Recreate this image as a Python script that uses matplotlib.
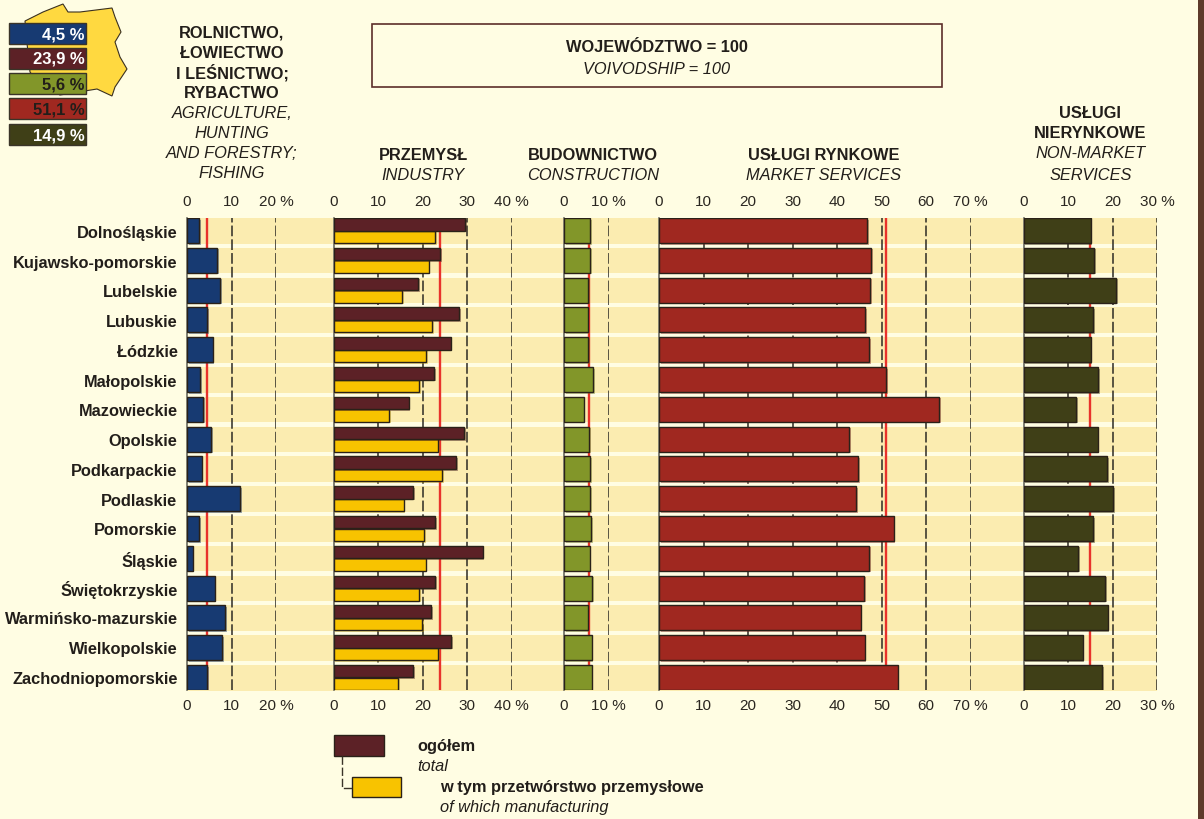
import matplotlib
matplotlib.use("Agg")
import matplotlib.pyplot as plt
from matplotlib.patches import Rectangle, Polygon
import matplotlib.patheffects as pe

W, H = 1204, 819
FONT = "Liberation Sans"
plt.rcParams["font.family"] = [FONT, "DejaVu Sans"]

regions = ["Dolnośląskie", "Kujawsko-pomorskie", "Lubelskie", "Lubuskie", "Łódzkie", "Małopolskie",
           "Mazowieckie", "Opolskie", "Podkarpackie", "Podlaskie", "Pomorskie", "Śląskie",
           "Świętokrzyskie", "Warmińsko-mazurskie", "Wielkopolskie", "Zachodniopomorskie"]
agriculture = [2.7, 6.8, 7.5, 4.6, 5.8, 3.0, 3.6, 5.5, 3.3, 11.9, 2.8, 1.3, 6.2, 8.6, 7.9, 4.6]
industry = [29.6, 23.9, 19.0, 28.3, 26.3, 22.6, 16.9, 29.3, 27.5, 17.9, 22.9, 33.5, 22.9, 22.0, 26.5, 17.9]
manufacturing = [22.9, 21.4, 15.4, 22.2, 20.8, 19.2, 12.5, 23.5, 24.4, 15.8, 20.3, 20.7, 19.2, 19.9, 23.5, 14.5]
construction = [5.9, 5.9, 5.5, 5.3, 5.4, 6.6, 4.4, 5.7, 5.9, 5.9, 6.1, 5.8, 6.4, 5.3, 6.2, 6.2]
market = [46.8, 47.7, 47.5, 46.4, 47.2, 51.0, 63.0, 42.8, 44.7, 44.3, 52.7, 47.2, 46.1, 45.3, 46.2, 53.6]
nonmarket = [15.1, 15.9, 20.8, 15.7, 15.1, 16.8, 11.9, 16.7, 18.8, 20.1, 15.6, 12.3, 18.3, 18.9, 13.3, 17.7]
means = [4.5, 23.9, 5.6, 51.1, 14.9]
mean_labels = ["4,5 %", "23,9 %", "5,6 %", "51,1 %", "14,9 %"]

BG, BAND, EDGE = "#FFFDE3", "#FBECB0", "#2A2118"
C_AGR, C_TOT, C_MAN, C_CON, C_MKT, C_NON = "#173A72", "#5C2126", "#F8C300", "#829629", "#A02820", "#3F3F17"
RED = "#E8322B"
SCALE = 4.45
Y0, Y1 = 218.0, 690.0
PITCH = 29.8
C0 = 230.5

fig = plt.figure(figsize=(W / 100, H / 100), dpi=100, facecolor=BG)

def px_axes(x0, x1, y0, y1):
    return fig.add_axes([x0 / W, 1 - y1 / H, (x1 - x0) / W, (y1 - y0) / H])

# page overlay, in pixels
bg = px_axes(0, W, 0, H)
bg.set_xlim(0, W); bg.set_ylim(H, 0); bg.axis("off"); bg.set_zorder(0)
for i in range(len(regions)):
    top_px = C0 + PITCH * i - 12.5
    bg.add_patch(Rectangle((187, top_px), 970, 25.5, fc=BAND, ec="none"))
bg.add_patch(Rectangle((1198, 0), 6, H, fc="#5E3A2A", ec="none"))

# Poland outline (decorative)
poland = [(25, 21), (43, 12), (63, 4), (68, 12), (80, 12), (112, 8), (115, 17), (121, 32), (115, 42),
          (120, 57), (127, 69), (115, 87), (112, 96), (97, 89), (60, 95), (40, 85), (30, 72), (27, 43)]
bg.add_patch(Polygon(poland, closed=True, fc="#FFD940", ec="#3A3020", lw=0.8))

shadow = [pe.SimplePatchShadow(offset=(1.2, -1.2), alpha=0.4, rho=0.8), pe.Normal()]

def panel(x0, xmax, ticks, series, colors, mean):
    ax = px_axes(x0, x0 + SCALE * xmax, Y0, Y1)
    ax.set_zorder(2)
    ax.patch.set_alpha(0)
    ax.set_xlim(0, xmax)
    ax.set_ylim((Y1 - C0) / PITCH, (Y0 - C0) / PITCH)
    for s in ax.spines.values():
        s.set_visible(False)
    ax.spines["left"].set_visible(True)
    ax.spines["left"].set_color("#6A6A60")
    ax.spines["left"].set_linewidth(1.2)
    ax.set_yticks([])
    ax.set_xticks(ticks)
    ax.set_xticklabels([str(t) if t != ticks[-1] else f"{t} %" for t in ticks])
    ax.tick_params(axis="x", top=False, bottom=False, labeltop=True, labelbottom=True,
                   length=0, pad=6.5, labelsize=11, labelcolor="#2A2620")
    for t in ticks[1:]:
        ax.axvline(t, color="#2C2A24", lw=1.1, dashes=(7, 2.0), zorder=1)
    ax.axvline(mean, color=RED, lw=1.7, zorder=1.5)
    ys = list(range(len(regions)))
    if len(series) == 1:
        b = ax.barh(ys, series[0], height=0.84, color=colors[0], edgecolor=EDGE, lw=1.0, zorder=3)
        for r in b:
            r.set_path_effects(shadow)
    else:
        b2 = ax.barh([y + 0.21 for y in ys], series[1], height=0.42, color=colors[1], edgecolor=EDGE, lw=1.0, zorder=3)
        b1 = ax.barh([y - 0.21 for y in ys], series[0], height=0.42, color=colors[0], edgecolor=EDGE, lw=1.0, zorder=4)
        for r in list(b1) + list(b2):
            r.set_path_effects(shadow)
    return ax

panel(187, 20, [0, 10, 20], [agriculture], [C_AGR], means[0])
panel(333.5, 40, [0, 10, 20, 30, 40], [industry, manufacturing], [C_TOT, C_MAN], means[1])
panel(564, 10, [0, 10], [construction], [C_CON], means[2])
panel(659, 70, [0, 10, 20, 30, 40, 50, 60, 70], [market], [C_MKT], means[3])
panel(1023.5, 30, [0, 10, 20, 30], [nonmarket], [C_NON], means[4])

# overlay for text and legends
top = px_axes(0, W, 0, H)
top.set_xlim(0, W); top.set_ylim(H, 0); top.axis("off"); top.set_zorder(3)
TXT = "#221E1A"

for i, name in enumerate(regions):
    top.text(177.5, 232 + 29.73 * i, name, ha="right", va="center_baseline", fontsize=11.8, fontweight="bold", color=TXT)

def lines(cx, items):
    for y, s, bold in items:
        top.text(cx, y - 1.5, s, ha="center", va="center_baseline", fontsize=11.8, color=TXT,
                 fontweight="bold" if bold else "normal", fontstyle="normal" if bold else "italic")

lines(232, [(33, "ROLNICTWO,", True), (53, "ŁOWIECTWO", True), (73, "I LEŚNICTWO;", True), (94, "RYBACTWO", True),
            (114, "AGRICULTURE,", False), (134, "HUNTING", False), (154, "AND FORESTRY;", False), (174, "FISHING", False)])
lines(423, [(155, "PRZEMYSŁ", True), (175, "INDUSTRY", False)])
lines(593, [(155, "BUDOWNICTWO", True), (175, "CONSTRUCTION", False)])
lines(824, [(156, "USŁUGI RYNKOWE", True), (176, "MARKET SERVICES", False)])
lines(1090.5, [(113, "USŁUGI", True), (134, "NIERYNKOWE", True), (154, "NON-MARKET", False), (175, "SERVICES", False)])

top.add_patch(Rectangle((372, 24), 570, 63, fc="none", ec="#5C2E2A", lw=1.2))
lines(657, [(47, "WOJEWÓDZTWO = 100", True), (69, "VOIVODSHIP = 100", False)])

box_colors = [C_AGR, C_TOT, C_CON, C_MKT, C_NON]
box_text = ["white", "white", TXT, TXT, "white"]
box_tops = [22.5, 47.5, 72.5, 98, 124]
for lab, c, tc, y in zip(mean_labels, box_colors, box_text, box_tops):
    top.add_patch(Rectangle((9, y), 77, 21, fc=c, ec="#3A3428", lw=1.0))
    top.text(85, y + 10.5, lab, ha="right", va="center_baseline", fontsize=12, fontweight="bold", color=tc)

r1 = Rectangle((334, 735), 50, 20.5, fc=C_TOT, ec=EDGE, lw=1.0)
r2 = Rectangle((352, 776.5), 49, 20.5, fc=C_MAN, ec=EDGE, lw=1.0)
top.add_patch(r1); top.add_patch(r2)
top.plot([342, 342, 352], [756, 788, 788], color="#3A3428", lw=1.0, dashes=(6, 2))
top.text(417, 745, "ogółem", ha="left", va="center_baseline", fontsize=11.8, fontweight="bold", color=TXT)
top.text(417, 765, "total", ha="left", va="center_baseline", fontsize=11.8, fontstyle="italic", color=TXT)
top.text(440, 786, "w tym przetwórstwo przemysłowe", ha="left", va="center_baseline", fontsize=11.8, fontweight="bold", color=TXT)
top.text(440, 806, "of which manufacturing", ha="left", va="center_baseline", fontsize=11.8, fontstyle="italic", color=TXT)

fig.savefig("out.png", dpi=100, facecolor=BG)
